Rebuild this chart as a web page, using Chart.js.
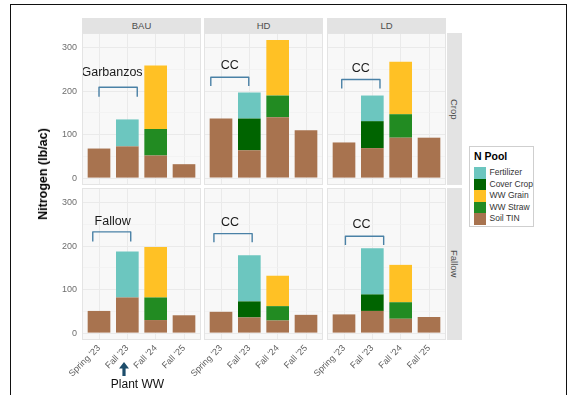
<!DOCTYPE html>
<html><head><meta charset="utf-8">
<script src="https://cdn.jsdelivr.net/npm/chart.js@4.4.0/dist/chart.umd.min.js"></script>
<style>
html,body{margin:0;padding:0;background:#fff;width:570px;height:395px;overflow:hidden;font-family:"Liberation Sans",Arial,sans-serif;}
#wrap{position:relative;width:570px;height:395px;}
canvas{position:absolute;}
.strip{position:absolute;background:#E3E3E3;color:#4D4D4D;font-size:9.5px;display:flex;align-items:center;justify-content:center;}
.vstrip{writing-mode:vertical-rl;}
#frame{position:absolute;left:10px;top:4px;width:557px;height:400px;border:1.5px solid #111;box-sizing:border-box;}
#ytitle{position:absolute;left:42.5px;top:174px;transform:translate(-50%,-50%) rotate(-90deg);font-weight:bold;font-size:12.5px;color:#000;white-space:nowrap;}
#legend{position:absolute;left:469px;top:146px;width:65px;height:81px;border:1px solid #CFCFCF;box-sizing:border-box;background:#fff;}
#legend .ttl{position:absolute;left:4px;top:3px;font-weight:bold;font-size:10.5px;color:#000;}
#legend .key{position:absolute;left:4px;width:11.5px;height:11.5px;}
#legend .lab{position:absolute;left:19.5px;font-size:8.5px;color:#333;line-height:11.5px;white-space:nowrap;}
#plant{position:absolute;left:137.5px;top:383.5px;transform:translate(-50%,-50%);font-size:12px;color:#111;white-space:nowrap;}
</style></head>
<body><div id="wrap"><div id="frame"></div></div>
<script>
// ---------------- data ----------------
const categories = ["Spring '23", "Fall '23", "Fall '24", "Fall '25"];
const treatments = ["BAU", "HD", "LD"];
const systems = ["Crop", "Fallow"];
const yTickValues = [0, 50, 100, 150, 200, 250, 300];
// panel order: Crop-BAU, Crop-HD, Crop-LD, Fallow-BAU, Fallow-HD, Fallow-LD
const soilTIN    = [[68,73,52,32],[137,64,140,110],[82,69,93,93],[51,82,30,41],[49,36,29,42],[43,51,33,37]];
const wwStraw    = [[null,null,61,null],[null,null,50,null],[null,null,54,null],[null,null,52,null],[null,null,33,null],[null,null,38,null]];
const wwGrain    = [[null,null,146,null],[null,null,128,null],[null,null,121,null],[null,null,116,null],[null,null,70,null],[null,null,86,null]];
const coverCrop  = [[null,null,null,null],[null,73,null,null],[null,62,null,null],[null,null,null,null],[null,37,null,null],[null,38,null,null]];
const fertilizer = [[null,62,null,null],[null,60,null,null],[null,59,null,null],[null,106,null,null],[null,106,null,null],[null,106,null,null]];
// stacking order bottom -> top
const seriesNames = ["Soil TIN", "WW Straw", "WW Grain", "Cover Crop", "Fertilizer"];
const seriesValues = [soilTIN, wwStraw, wwGrain, coverCrop, fertilizer];
const legendOrder = ["Fertilizer", "Cover Crop", "WW Grain", "WW Straw", "Soil TIN"];
// bracket annotations (data coordinates) per panel
const bracketLabels = ["Garbanzos", "CC", "CC", "Fallow", "CC", "CC"];
const bracketX1 = [0.0, -0.36, -0.08, -0.22, -0.25, 0.05];
const bracketX2 = [1.35, 0.98, 1.27, 1.12, 1.10, 1.40];
const bracketLineY = [209, 232, 227, 233, 229, 223];
const bracketTickY = [187, 212, 206, 211, 209, 203];
const labelX = [0.46, 0.31, 0.59, 0.48, 0.32, 0.62];
const labelY = [244, 258, 252, 257, 255, 250];

// ---------------- styles / layout ----------------
const colors = {"Fertilizer":"#6CC6BF","Cover Crop":"#006400","WW Grain":"#FFC125","WW Straw":"#228B22","Soil TIN":"#A8734F"};
const FONT = '"Liberation Sans", Arial, sans-serif';
const PX = [82, 204, 327], PW = 119;
const PY = [33, 188], PH = 152;
const ML = 40, MB = 60;

let yMaxData = 0;
for (let p = 0; p < 6; p++) for (let i = 0; i < 4; i++) {
  let s = 0; seriesValues.forEach(sv => { s += sv[p][i] || 0; }); yMaxData = Math.max(yMaxData, s);
}
const yMin = -0.05 * yMaxData, yMax = yMaxData * 1.05;
const xMin = -0.6, xMax = categories.length - 1 + 0.6;

const wrap = document.getElementById('wrap');

const panelPlugin = {
  id: 'panelBg',
  beforeDraw(chart) {
    const {ctx, chartArea: a} = chart;
    ctx.save();
    ctx.fillStyle = '#F8F8F8';
    ctx.fillRect(a.left, a.top, a.right - a.left, a.bottom - a.top);
    ctx.restore();
  },
  afterDraw(chart) {
    const {ctx, chartArea: a} = chart;
    ctx.save();
    ctx.strokeStyle = '#E4E4E4';
    ctx.lineWidth = 1;
    ctx.strokeRect(a.left + 0.5, a.top + 0.5, a.right - a.left - 1, a.bottom - a.top - 1);
    ctx.restore();
  }
};

const bracketPlugin = {
  id: 'bracket',
  afterDatasetsDraw(chart) {
    const p = chart.options.plugins.bracket.panel;
    const xs = chart.scales.x, ys = chart.scales.y;
    const ctx = chart.ctx;
    const x1 = xs.getPixelForValue(bracketX1[p]), x2 = xs.getPixelForValue(bracketX2[p]);
    const yl = ys.getPixelForValue(bracketLineY[p]), yt = ys.getPixelForValue(bracketTickY[p]);
    ctx.save();
    ctx.strokeStyle = '#4A81A6';
    ctx.lineWidth = 1.4;
    ctx.lineJoin = 'round';
    ctx.beginPath();
    ctx.moveTo(x1, yt); ctx.lineTo(x1, yl); ctx.lineTo(x2, yl); ctx.lineTo(x2, yt);
    ctx.stroke();
    ctx.fillStyle = '#1A1A1A';
    ctx.font = '12.5px ' + FONT;
    ctx.textAlign = 'center';
    ctx.textBaseline = 'middle';
    ctx.fillText(bracketLabels[p], xs.getPixelForValue(labelX[p]), ys.getPixelForValue(labelY[p]));
    ctx.restore();
  }
};

for (let p = 0; p < 6; p++) {
  const r = Math.floor(p / 3), c = p % 3;
  const cv = document.createElement('canvas');
  cv.width = PW + ML; cv.height = PH + MB;
  cv.style.left = (PX[c] - ML) + 'px'; cv.style.top = PY[r] + 'px';
  cv.style.width = (PW + ML) + 'px'; cv.style.height = (PH + MB) + 'px';
  wrap.appendChild(cv);

  const datasets = seriesNames.map((name, k) => ({
    label: name,
    data: seriesValues[k][p].map((v, i) => ({x: i, y: v})).filter(d => d.y !== null),
    backgroundColor: colors[name],
    borderWidth: 0,
    barPercentage: 0.8,
    categoryPercentage: 1.0
  }));

  new Chart(cv, {
    type: 'bar',
    data: {datasets},
    options: {
      responsive: false, animation: false, devicePixelRatio: 1,
      layout: {padding: 0},
      plugins: {legend: {display: false}, tooltip: {enabled: false}, bracket: {panel: p}},
      scales: {
        x: {
          type: 'linear', stacked: true, min: xMin, max: xMax, offset: false,
          afterBuildTicks: s => { s.ticks = categories.map((_, i) => ({value: i})); },
          afterFit: s => { s.height = MB; s.paddingLeft = 0; s.paddingRight = 0; },
          grid: {offset: false, color: '#EAEAEA', lineWidth: 1, drawTicks: false},
          border: {display: false},
          ticks: {display: r === 1, autoSkip: false, maxRotation: 45, minRotation: 45, padding: 3,
                  color: '#5E5E5E', font: {size: 9, family: FONT}, callback: v => categories[v]}
        },
        y: {
          type: 'linear', stacked: true, min: yMin, max: yMax,
          afterBuildTicks: s => { s.ticks = yTickValues.map(v => ({value: v})); },
          afterFit: s => { s.width = ML; s.paddingTop = 0; s.paddingBottom = 0; },
          grid: {color: ctx => (ctx.tick && ctx.tick.value % 100 === 0) ? '#EAEAEA' : '#F1F1F1',
                 lineWidth: ctx => (ctx.tick && ctx.tick.value % 100 === 0) ? 1 : 0.7, drawTicks: false},
          border: {display: false},
          ticks: {display: c === 0, padding: 5, color: '#6E6E6E', font: {size: 9, family: FONT},
                  callback: v => (v % 100 === 0 ? String(v) : '')}
        }
      }
    },
    plugins: [panelPlugin, bracketPlugin]
  });
}

// strips
treatments.forEach((t, c) => {
  const d = document.createElement('div');
  d.className = 'strip'; d.textContent = t;
  d.style.left = PX[c] + 'px'; d.style.top = '18px'; d.style.width = PW + 'px'; d.style.height = '14.5px';
  wrap.appendChild(d);
});
systems.forEach((s, r) => {
  const d = document.createElement('div');
  d.className = 'strip vstrip'; d.textContent = s;
  d.style.left = '447px'; d.style.top = PY[r] + 'px'; d.style.width = '15px'; d.style.height = PH + 'px';
  wrap.appendChild(d);
});

// axis title
const yt = document.createElement('div'); yt.id = 'ytitle'; yt.textContent = 'Nitrogen (lb/ac)'; wrap.appendChild(yt);

// legend
const lg = document.createElement('div'); lg.id = 'legend';
lg.innerHTML = '<div class="ttl">N Pool</div>';
legendOrder.forEach((n, i) => {
  const top = 20 + i * 11.5;
  lg.innerHTML += `<div class="key" style="top:${top}px;background:${colors[n]}"></div><div class="lab" style="top:${top}px">${n}</div>`;
});
wrap.appendChild(lg);

// Plant WW note
const pl = document.createElement('div'); pl.id = 'plant'; pl.textContent = 'Plant WW'; wrap.appendChild(pl);
const svgNS = 'http://www.w3.org/2000/svg';
const svg = document.createElementNS(svgNS, 'svg');
svg.setAttribute('width', '570'); svg.setAttribute('height', '395');
svg.style.position = 'absolute'; svg.style.left = '0'; svg.style.top = '0'; svg.style.pointerEvents = 'none';
const poly = document.createElementNS(svgNS, 'polygon');
poly.setAttribute('points', '124,362 129,368.5 125.6,368.5 125.6,376 122.4,376 122.4,368.5 119,368.5');
poly.setAttribute('fill', '#1D4D6B');
svg.appendChild(poly);
wrap.appendChild(svg);
</script>
</body></html>
